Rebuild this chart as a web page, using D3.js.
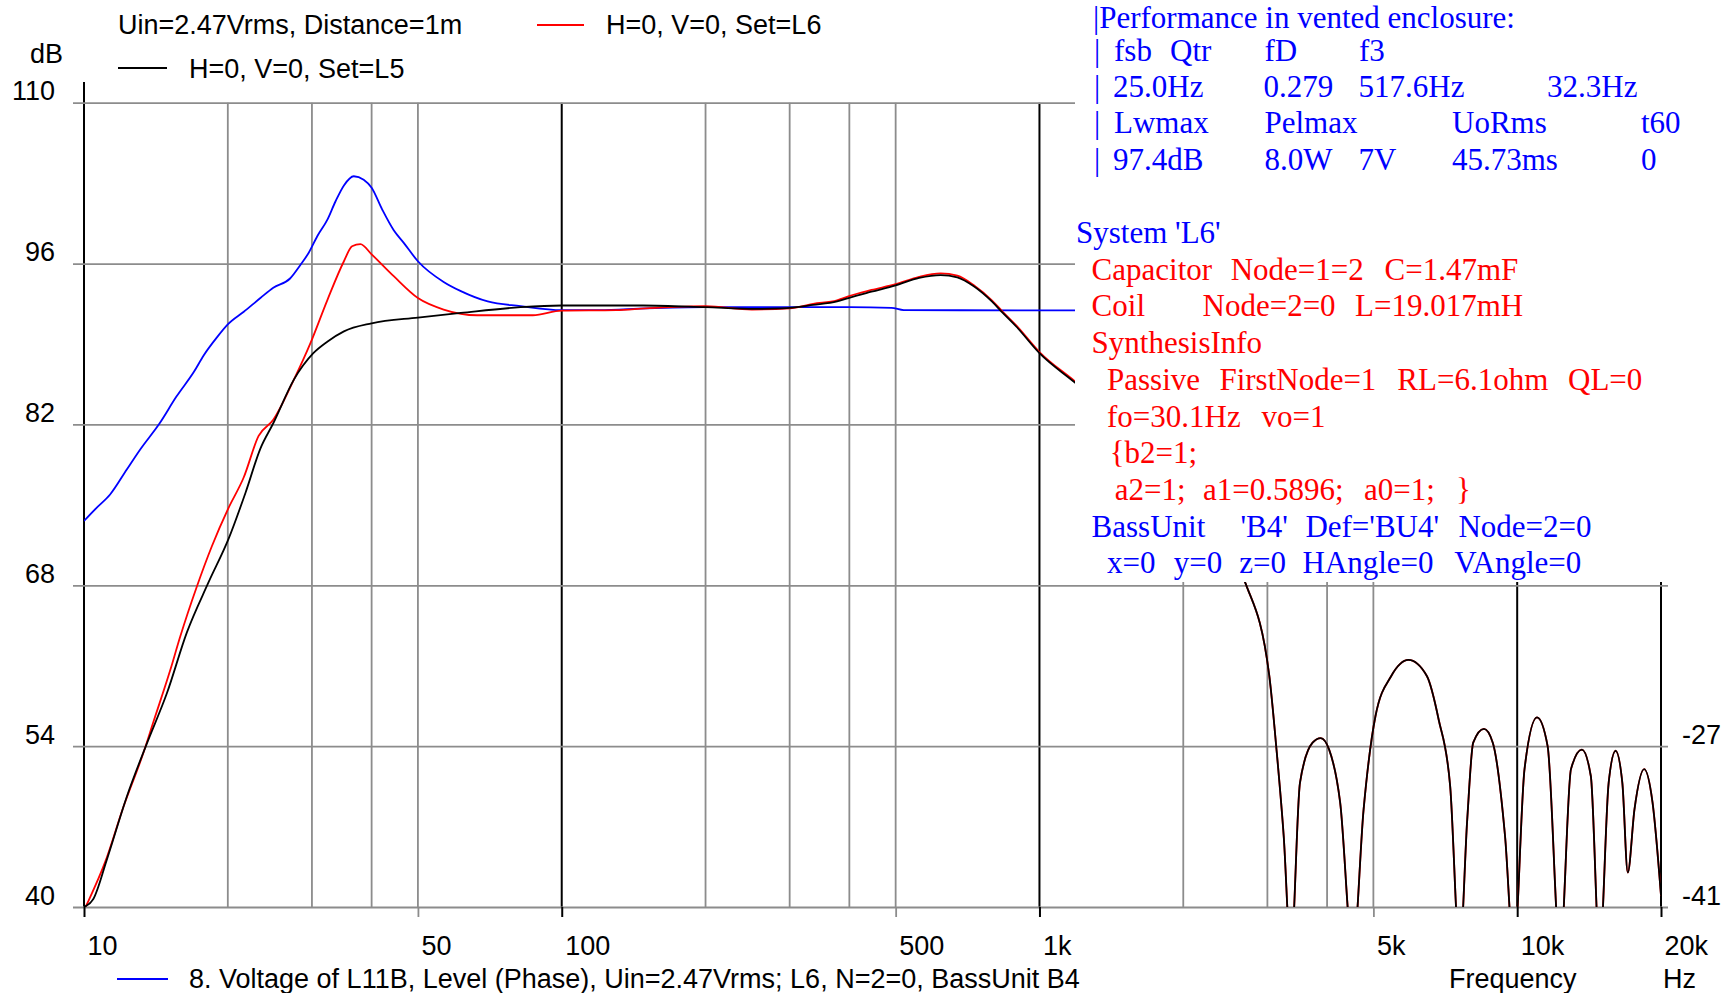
<!DOCTYPE html>
<html>
<head>
<meta charset="utf-8">
<script src="https://cdn.jsdelivr.net/npm/d3@7"></script>
<style>
  body { margin: 0; background: #fff; }
  svg { display: block; }
</style>
</head>
<body>
<svg id="chart" width="1721" height="993"></svg>
<script>
// ---- frequency response data (Hz, dB) ----
const freqBlue = [10, 10.6, 11.34, 12.3, 13.1, 14.4, 15.6, 17.0, 17.8, 19.0, 20, 21.6, 23.4, 24.9, 27.0, 28.4, 29.5, 30.8, 32.3, 33.6, 35.0, 36.7, 38.5, 40, 42.1, 44.5, 46.7, 50, 56.6, 61.5, 70, 82, 100, 120, 150, 200, 400, 490, 520, 1000, 20000];
const dbBlue   = [73.6, 74.7, 75.9, 78.1, 79.8, 82.1, 84.4, 86.6, 88.0, 89.6, 90.7, 91.8, 93.0, 93.9, 94.7, 95.9, 96.9, 98.4, 99.8, 101.4, 102.8, 103.6, 103.3, 102.6, 100.7, 98.9, 97.8, 96.2, 94.4, 93.6, 92.7, 92.3, 91.95, 91.95, 92.1, 92.2, 92.2, 92.15, 91.95, 91.93, 91.93];

const freqRed = [10, 10.13, 11.07, 12.09, 13.31, 13.97, 15.15, 15.89, 17.23, 18.52, 20.05, 21.6, 23.2, 24.9, 27.5, 29.8, 32.3, 35.0, 36.4, 37.9, 40, 44.5, 50, 56.6, 66.5, 87, 100, 130, 150, 200, 250, 300, 336, 377, 398, 445, 500, 560, 621, 673, 730, 795, 838, 895, 1000, 1190];
const dbRed   = [39.7, 40.2, 43.9, 48.7, 53.4, 56.1, 60.6, 63.5, 67.9, 71.4, 74.7, 77.4, 81.0, 82.4, 85.9, 89.1, 92.8, 96.2, 97.5, 97.7, 96.8, 94.9, 93.0, 92.0, 91.5, 91.5, 91.9, 91.95, 92.1, 92.3, 92.0, 92.1, 92.5, 92.8, 93.15, 93.7, 94.2, 94.85, 95.15, 94.95, 94.1, 92.8, 91.8, 90.6, 88.3, 85.7];

const freqBlack = [10, 10.46, 11.16, 12.29, 13.53, 14.91, 16.42, 18.2, 20.1, 21.8, 23.4, 24.9, 27.5, 30.2, 32.3, 35, 40, 50, 61.5, 82, 100, 148, 200, 253, 289, 336, 377, 398, 445, 500, 560, 621, 673, 730, 795, 838, 895, 1000, 1190];
const dbBlack   = [40.0, 40.7, 44.1, 49.6, 54.2, 58.6, 63.9, 68.2, 72.1, 76.1, 79.9, 82.1, 85.9, 88.2, 89.2, 90.1, 90.8, 91.3, 91.7, 92.2, 92.35, 92.35, 92.2, 92.05, 92.1, 92.4, 92.7, 93.0, 93.55, 94.1, 94.75, 95.0, 94.8, 94.0, 92.7, 91.7, 90.5, 88.2, 85.6];

// upper band, where the L5 and L6 sets coincide
const freqTail = [1500, 2000, 2400, 2704, 3026, 3130, 3245, 3360, 3510, 3730, 3880, 4040, 4260, 4530, 4770, 5050, 5450, 5920, 6470, 6850, 7240, 7580, 7860, 8090, 8520, 8890, 9430, 9840, 10360, 11000, 11580, 12300, 12960, 13660, 14260, 14880, 15540, 16070, 16600, 17040, 17600, 18440, 19200, 20000];
const dbTail   = [82.0, 76.5, 71.5, 68.1, 60.2, 54.0, 46.2, 36, 50.8, 54.3, 54.7, 53.7, 49.1, 36, 48.5, 56.6, 60.1, 61.5, 60.1, 56.3, 50.5, 36, 47.6, 54.3, 55.5, 54.3, 46.2, 36, 52.0, 56.5, 54.0, 36, 52.0, 53.7, 51.4, 36, 50.8, 53.6, 50.8, 43.0, 48.5, 52.0, 49.1, 41.0];

// ---- axes ----
const dbTicks = [40, 54, 68, 82, 96, 110];
const dbLabels = ["40", "54", "68", "82", "96", "110"];
const rightTicks = [54, 40];
const rightLabels = ["-27", "-41"];
const freqTicks = [10, 50, 100, 500, 1000, 5000, 10000, 20000];
const freqLabels = ["10", "50", "100", "500", "1k", "5k", "10k", "20k"];
const gridFreqs = [10, 20, 30, 40, 50, 100, 200, 300, 400, 500, 1000, 2000, 3000, 4000, 5000, 10000, 20000];
const decadeFreqs = [10, 100, 1000, 10000, 20000];

// ---- texts ----
const legendTitle = "Uin=2.47Vrms, Distance=1m";
const legendRed = "H=0, V=0, Set=L6";
const legendBlack = "H=0, V=0, Set=L5";
const legendBlue = "8. Voltage of L11B, Level (Phase), Uin=2.47Vrms; L6, N=2=0, BassUnit B4";
const panelLines = [
  ["|Performance in vented enclosure:"],
  ["|", "fsb", "Qtr", "fD", "f3"],
  ["|", "25.0Hz", "0.279", "517.6Hz", "32.3Hz"],
  ["|", "Lwmax", "Pelmax", "UoRms", "t60"],
  ["|", "97.4dB", "8.0W", "7V", "45.73ms", "0"],
  ["System 'L6'"],
  ["Capacitor", "Node=1=2", "C=1.47mF"],
  ["Coil", "Node=2=0", "L=19.017mH"],
  ["SynthesisInfo"],
  ["Passive", "FirstNode=1", "RL=6.1ohm", "QL=0"],
  ["fo=30.1Hz", "vo=1"],
  ["{b2=1;"],
  ["a2=1;", "a1=0.5896;", "a0=1;", "}"],
  ["BassUnit", "'B4'", "Def='BU4'", "Node=2=0"],
  ["x=0", "y=0", "z=0", "HAngle=0", "VAngle=0"]
];

// ---- layout ----
const W = 1721, H = 993;
const pLeft = 84, pRight = 1661, pTop = 102.7, pBottom = 907;
const GRAY = "#8c8c8c";
const SANS = "'Liberation Sans', Arial, sans-serif";
const SERIF = "'Liberation Serif', 'Times New Roman', serif";
const BLUE = "#0000ff", RED = "#ff0000";

const panelX = [
  [1093], [1094, 1114, 1170, 1264.5, 1359], [1094, 1113, 1263.5, 1358.5, 1547],
  [1094, 1114, 1264.5, 1452, 1641], [1094, 1113, 1264.5, 1358.5, 1452, 1641],
  [1076], [1091.6, 1230.7, 1384.6], [1091.6, 1202.5, 1355], [1091.6],
  [1107, 1219.4, 1397.3, 1568], [1107, 1261.5], [1109.7],
  [1114.8, 1203, 1364, 1456], [1091.6, 1240.4, 1305.4, 1458.4],
  [1107, 1173.8, 1239.2, 1302.4, 1454.2]
];
const panelY = [28, 60.5, 96.7, 133.3, 170, 243.3, 280, 316, 353.3, 390, 426.7, 463.3, 500, 536.7, 572.7];
const panelColour = [BLUE, BLUE, BLUE, BLUE, BLUE, BLUE, RED, RED, RED, RED, RED, RED, RED, BLUE, BLUE];

const svg = d3.select("#chart");
svg.append("rect").attr("width", W).attr("height", H).attr("fill", "#fff");

const x = d3.scaleLog().domain([10, 20000]).range([pLeft, pRight]);
const y = d3.scaleLinear().domain([40, 110]).range([pBottom, pTop]);

// vertical grid
svg.append("g").selectAll("line").data(gridFreqs).join("line")
  .attr("x1", d => x(d)).attr("x2", d => x(d))
  .attr("y1", d => d === 10 ? 82 : pTop).attr("y2", pBottom)
  .attr("stroke", d => decadeFreqs.includes(d) ? "#000" : GRAY)
  .attr("stroke-width", d => decadeFreqs.includes(d) ? 2 : 1.8);

// horizontal grid + left labels
const gy = svg.append("g").attr("transform", `translate(${pLeft},0)`)
  .call(d3.axisLeft(y).tickValues(dbTicks).tickFormat((d, i) => dbLabels[i]).tickSize(11).tickSizeOuter(0));
gy.select(".domain").remove();
gy.selectAll(".tick line").attr("x1", -11).attr("x2", pRight - pLeft + 7)
  .attr("stroke", GRAY).attr("stroke-width", 1.8);
gy.selectAll(".tick text").attr("x", -29).attr("y", -3).attr("dy", null)
  .attr("text-anchor", "end").attr("font-family", SANS).attr("font-size", 27).attr("fill", "#000");

// bottom axis ticks + labels
const gx = svg.append("g").attr("transform", `translate(0,${pBottom})`)
  .call(d3.axisBottom(x).tickValues(freqTicks).tickFormat((d, i) => freqLabels[i]).tickSize(10).tickSizeOuter(0));
gx.select(".domain").remove();
gx.selectAll(".tick line")
  .attr("stroke", d => decadeFreqs.includes(d) ? "#000" : GRAY)
  .attr("stroke-width", d => decadeFreqs.includes(d) ? 2 : 1.8);
gx.selectAll(".tick text").attr("x", 3).attr("y", 48).attr("dy", null)
  .attr("text-anchor", "start").attr("font-family", SANS).attr("font-size", 27).attr("fill", "#000");

// curves
svg.append("clipPath").attr("id", "plotClip").append("rect")
  .attr("x", pLeft).attr("y", pTop).attr("width", pRight - pLeft).attr("height", pBottom - pTop);
const line = d3.line().x(d => x(d[0])).y(d => y(d[1])).curve(d3.curveMonotoneX);
const plot = svg.append("g").attr("clip-path", "url(#plotClip)");
const pts = (f, v) => f.map((d, i) => [d, v[i]]);
const seriesBlue = pts(freqBlue, dbBlue);
const seriesRed = pts(freqRed.concat(freqTail), dbRed.concat(dbTail));
const seriesBlack = pts(freqBlack.concat(freqTail), dbBlack.concat(dbTail));
plot.append("path").attr("d", line(seriesBlue)).attr("fill", "none").attr("stroke", BLUE).attr("stroke-width", 1.8);
plot.append("path").attr("d", line(seriesRed)).attr("fill", "none").attr("stroke", RED).attr("stroke-width", 1.8);
plot.append("path").attr("d", line(seriesBlack)).attr("fill", "none").attr("stroke", "#000").attr("stroke-width", 1.8);

// right-hand labels
svg.append("g").selectAll("text").data(rightTicks).join("text")
  .attr("x", 1682).attr("y", d => y(d) - 2)
  .attr("font-family", SANS).attr("font-size", 27).text((d, i) => rightLabels[i]);

// info panel
svg.append("rect").attr("x", 1075).attr("y", 0).attr("width", W - 1075).attr("height", 582).attr("fill", "#fff");
const panel = svg.append("g").attr("font-family", SERIF).attr("font-size", 31);
panelLines.forEach((tokens, r) => {
  panel.append("g").attr("fill", panelColour[r]).selectAll("text").data(tokens).join("text")
    .attr("x", (d, i) => panelX[r][i]).attr("y", panelY[r]).text(d => d);
});

// legends and captions
const txt = (s, px, py) => svg.append("text").attr("x", px).attr("y", py)
  .attr("font-family", SANS).attr("font-size", 27).attr("fill", "#000").text(s);
txt("dB", 30, 63);
txt(legendTitle, 118, 34);
svg.append("line").attr("x1", 537).attr("x2", 584).attr("y1", 25).attr("y2", 25).attr("stroke", RED).attr("stroke-width", 2);
txt(legendRed, 606, 34);
svg.append("line").attr("x1", 118).attr("x2", 167).attr("y1", 68).attr("y2", 68).attr("stroke", "#000").attr("stroke-width", 2);
txt(legendBlack, 189, 78);
svg.append("line").attr("x1", 117).attr("x2", 168).attr("y1", 979).attr("y2", 979).attr("stroke", BLUE).attr("stroke-width", 2);
txt(legendBlue, 189, 988);
txt("Frequency", 1449, 988);
txt("Hz", 1663, 988);
</script>
</body>
</html>
